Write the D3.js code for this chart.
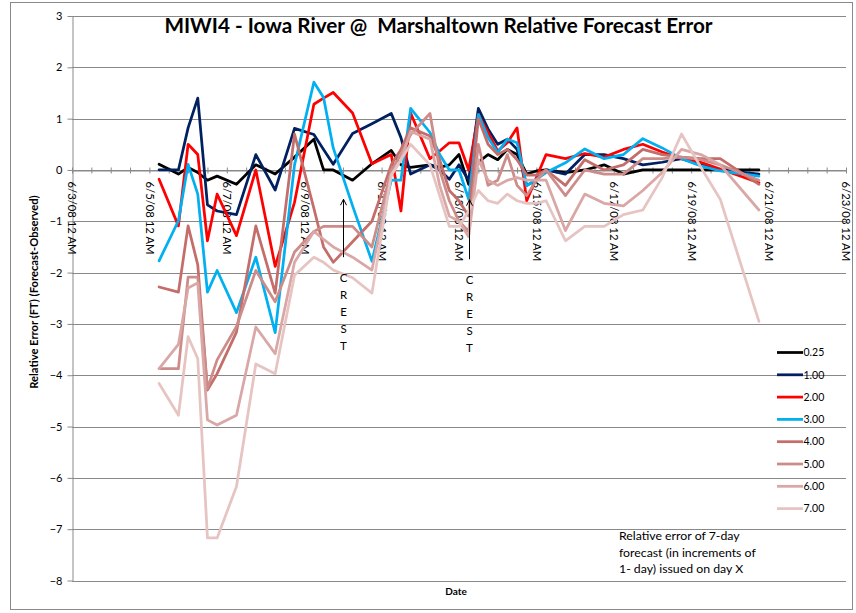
<!DOCTYPE html>
<html>
<head>
<meta charset="utf-8">
<script src="https://cdn.jsdelivr.net/npm/d3@7"></script>
<style>
  html, body { margin: 0; padding: 0; background: #fff; }
  svg { display: block; font-family: Lato, "Liberation Sans", sans-serif; }
</style>
</head>
<body>
<svg id="chart" width="856" height="613"></svg>
<script>
// Forecast issue times (shared by every series)
const issueTimes = [
  "2008-06-05 06:00", "2008-06-05 18:00", "2008-06-06 00:00", "2008-06-06 06:00",
  "2008-06-06 12:00", "2008-06-06 18:00", "2008-06-07 06:00", "2008-06-07 18:00",
  "2008-06-08 06:00", "2008-06-08 18:00", "2008-06-09 06:00", "2008-06-09 12:00",
  "2008-06-09 18:00", "2008-06-10 06:00", "2008-06-10 18:00", "2008-06-11 06:00",
  "2008-06-11 12:00", "2008-06-11 18:00", "2008-06-12 06:00", "2008-06-12 12:00",
  "2008-06-12 18:00", "2008-06-13 00:00", "2008-06-13 06:00", "2008-06-13 12:00",
  "2008-06-13 18:00", "2008-06-14 00:00", "2008-06-14 06:00", "2008-06-14 12:00",
  "2008-06-14 18:00", "2008-06-15 00:00", "2008-06-15 06:00", "2008-06-15 18:00",
  "2008-06-16 06:00", "2008-06-16 18:00", "2008-06-17 06:00", "2008-06-17 18:00",
  "2008-06-18 06:00", "2008-06-18 18:00", "2008-06-19 06:00", "2008-06-19 18:00",
  "2008-06-20 18:00"
];

// Relative error (ft) by forecast lead (days)
const err025 = [0.11, -0.08, 0.05, -0.05, -0.2, -0.12, -0.28, 0.1, -0.08, 0.25,
  0.6, 0.0, 0.0, -0.2, 0.12, 0.38, 0.1, 0.05, 0.1, 0.05,
  0.1, 0.3, -0.28, 0.15, 0.3, 0.2, 0.4, 0.3, -0.08, -0.02,
  0.0, -0.05, 0.0, 0.1, -0.08, 0.0, 0.0, 0.0, 0.0, 0.0, 0.0];
const err100 = [0.0, 0.0, 0.82, 1.4, -0.68, -0.8, -0.87, 0.3, -0.39, 0.81,
  0.69, 0.4, 0.11, 0.71, 0.9, 1.1, 0.63, -0.08, 0.1, 0.0,
  -0.18, 0.1, -0.2, 1.2, 0.8, 0.5, 0.6, 0.4, -0.3, -0.2,
  0.0, -0.08, 0.3, 0.3, 0.22, 0.1, 0.15, 0.22, 0.1, 0.0, -0.08];
const err200 = [-0.18, -1.09, 0.5, 0.3, -1.38, -0.47, -1.28, 0.0, -1.88, -0.63,
  1.28, 1.4, 1.51, 1.11, 0.12, 0.3, -0.8, 1.11, 0.22, 0.37,
  0.53, 0.53, 0.0, 1.08, 0.73, 0.37, 0.53, 0.82, -0.6, -0.15,
  0.3, 0.22, 0.32, 0.25, 0.4, 0.5, 0.35, 0.22, 0.15, 0.02, -0.25];
const err300 = [-1.77, -0.99, 0.11, -0.47, -2.38, -1.96, -2.78, -1.7, -3.17, 0.1,
  1.71, 1.41, 0.43, -0.7, -1.78, -0.2, -0.2, 1.2, 0.73, 0.3,
  0.0, 0.0, -0.57, 1.08, 0.63, 0.34, 0.6, 0.53, -0.31, -0.18,
  -0.05, 0.14, 0.41, 0.22, 0.3, 0.61, 0.43, 0.22, 0.08, -0.02, -0.12];
const err400 = [-2.28, -2.38, -1.09, -1.85, -4.29, -3.97, -3.16, -1.09, -2.4, 0.7,
  -0.75, -1.5, -1.8, -1.4, -1.0, 0.1, 0.4, 0.82, 0.66, 0.2,
  -0.4, -0.6, -0.9, 1.0, 0.5, 0.3, 0.4, 0.2, -0.1, -0.1,
  0.0, -0.3, 0.2, 0.0, 0.1, 0.4, 0.3, 0.25, 0.22, 0.22, -0.28];
const err500 = [-3.87, -3.87, -2.09, -2.09, -4.26, -3.7, -3.05, -1.96, -2.57, -1.6,
  -1.2, -1.1, -1.1, -1.1, -1.5, 0.0, 0.3, 0.69, 1.1, 0.0,
  -0.6, -1.0, -1.2, 0.5, -0.3, -0.2, 0.3, -0.3, -0.5, -0.2,
  0.0, -0.5, 0.0, -0.08, -0.08, 0.22, 0.22, 0.25, 0.2, 0.1, -0.2];
const err600 = [-3.87, -3.4, -2.3, -2.2, -4.87, -4.97, -4.78, -3.06, -3.58, -1.8,
  -1.2, -1.35, -1.5, -1.7, -1.95, -0.1, 0.2, 0.75, 0.6, -0.3,
  -0.9, -1.0, -1.3, 0.2, -0.2, -0.3, -0.2, -0.15, -0.2, -0.2,
  -0.2, -1.18, -0.47, -0.65, -0.7, -0.4, -0.05, 0.4, 0.3, 0.1, -0.78];
const err700 = [-4.16, -4.78, -3.25, -3.68, -7.17, -7.17, -6.17, -3.78, -3.97, -2.05,
  -1.7, -1.8, -1.95, -2.1, -2.4, -0.1, 0.2, 0.5, 0.1, -0.5,
  -1.1, -1.1, -0.8, -0.4, -0.6, -0.65, -0.47, -0.6, -0.65, -0.65,
  -0.6, -1.38, -1.1, -1.1, -0.87, -0.78, -0.15, 0.7, 0.05, -0.57, -2.95];

const seriesNames = ["0.25", "1.00", "2.00", "3.00", "4.00", "5.00", "6.00", "7.00"];
const seriesValues = [err025, err100, err200, err300, err400, err500, err600, err700];
const seriesColors = ["#000000", "#002060", "#ff0000", "#00b0f0",
                      "#c36e6b", "#cd8c89", "#d9a7a5", "#e6c4c2"];

const yTickValues = [-8, -7, -6, -5, -4, -3, -2, -1, 0, 1, 2, 3];
const axisStart = "2008-06-03 00:00";
const axisEnd = "2008-06-23 00:00";

// Crest markers: time, arrow from / to (ft)
const crestTimes = ["2008-06-10 00:00", "2008-06-13 06:00"];
const crestArrowFrom = [-1.70, -1.74];
const crestArrowTo = [-0.57, -0.58];

const titleText = "MIWI4 - Iowa River @  Marshaltown Relative Forecast Error";
const yTitle = "Relative Error (FT) (Forecast-Observed)";
const xTitle = "Date";
const noteLines = ["Relative error of 7-day", "forecast (in increments of", "1- day) issued on day X"];

// ---------------------------------------------------------------
const parse = d3.timeParse("%Y-%m-%d %H:%M");
const times = issueTimes.map(parse);
const t0 = parse(axisStart), t1 = parse(axisEnd);

const svg = d3.select("#chart");
const gridColor = "#898989";

const x = d3.scaleTime().domain([t0, t1]).range([72, 846]);
const y = d3.scaleLinear().domain([-8, 3]).range([580.5, 16]);

// outer frame
svg.append("rect").attr("x", 10.5).attr("y", 2.5).attr("width", 842).attr("height", 607)
  .attr("fill", "#fff").attr("stroke", gridColor).attr("stroke-width", 1);

// horizontal gridlines
svg.append("g").selectAll("line").data(yTickValues).join("line")
  .attr("x1", 72).attr("x2", 846)
  .attr("y1", d => Math.round(y(d)) + 0.5).attr("y2", d => Math.round(y(d)) + 0.5)
  .attr("stroke", gridColor).attr("stroke-width", 1);

// value axis
const yAxisG = svg.append("g").attr("transform", "translate(72.5,0)")
  .call(d3.axisLeft(y).tickValues(yTickValues).tickSize(5).tickSizeOuter(0).tickPadding(5).tickFormat(d3.format("d")));
yAxisG.select(".domain").attr("stroke", gridColor);
yAxisG.selectAll(".tick line").attr("stroke", gridColor);
yAxisG.selectAll(".tick text").attr("font-size", 11).attr("fill", "#000")
  .attr("font-family", "Lato, 'Liberation Sans', sans-serif");

// date axis crossing at zero
const halfDays = d3.timeHour.every(12).range(t0, d3.timeHour.offset(t1, 1));
const labelDays = d3.range(0, 21, 2).map(k => d3.timeDay.offset(t0, k));
const y0 = Math.round(y(0)) + 0.5;
const xAxisG = svg.append("g").attr("transform", `translate(0,${y0})`)
  .call(d3.axisBottom(x).tickValues(halfDays).tickSize(3).tickSizeOuter(0).tickFormat(""));
xAxisG.select(".domain").attr("stroke", gridColor);
xAxisG.selectAll(".tick line").attr("y1", -3).attr("y2", 3).attr("stroke", gridColor);

const fmtDate = d3.timeFormat("%-m/%-d/%y %-I %p");
const xLabG = svg.append("g").attr("transform", `translate(0,${y0})`)
  .call(d3.axisBottom(x).tickValues(labelDays).tickSize(0).tickSizeOuter(0).tickFormat(fmtDate));
xLabG.select(".domain").remove();
xLabG.selectAll(".tick text")
  .attr("font-size", 11.3).attr("fill", "#000")
  .attr("font-family", "Lato, 'Liberation Sans', sans-serif")
  .attr("text-anchor", "start")
  .attr("y", 0).attr("dy", "0.36em")
  .attr("transform", "translate(0,11) rotate(90)");

// series lines
const line = d3.line()
  .x((d, i) => x(times[i]))
  .y(d => y(d));
svg.append("g").selectAll("path").data(seriesValues).join("path")
  .attr("d", d => line(d))
  .attr("fill", "none")
  .attr("stroke", (d, i) => seriesColors[i])
  .attr("stroke-width", 2.75)
  .attr("stroke-linejoin", "round")
  .attr("stroke-linecap", "round");

// crest arrows
const crestG = svg.append("g");
crestTimes.forEach((ts, i) => {
  const cx = Math.round(x(parse(ts))) + 0.5;
  const yb = y(crestArrowFrom[i]), yt = y(crestArrowTo[i]);
  crestG.append("line").attr("x1", cx).attr("x2", cx).attr("y1", yb).attr("y2", yt)
    .attr("stroke", "#000").attr("stroke-width", 1);
  crestG.append("path")
    .attr("d", `M${cx - 3},${yt + 6}L${cx},${yt}L${cx + 3},${yt + 6}`)
    .attr("fill", "none").attr("stroke", "#000").attr("stroke-width", 1);
  "CREST".split("").forEach((ch, k) => {
    crestG.append("text").attr("x", cx).attr("y", yb + 25 + k * 17)
      .attr("text-anchor", "middle").attr("font-size", 11.5).attr("fill", "#000")
      .text(ch);
  });
});

// title and axis titles
svg.append("text").attr("x", 438.5).attr("y", 33).attr("text-anchor", "middle")
  .attr("font-size", 20.7).attr("font-weight", "bold").attr("fill", "#000")
  .style("white-space", "pre").text(titleText);
svg.append("text").attr("transform", "translate(38,292) rotate(-90)")
  .attr("text-anchor", "middle").attr("font-size", 11.2).attr("font-weight", "bold")
  .attr("fill", "#000").text(yTitle);
svg.append("text").attr("x", 456).attr("y", 595).attr("text-anchor", "middle")
  .attr("font-size", 10).attr("font-weight", "bold").attr("fill", "#000").text(xTitle);

// legend
const legG = svg.append("g").attr("transform", "translate(777,352.5)");
const legItems = legG.selectAll("g").data(seriesNames).join("g")
  .attr("transform", (d, i) => `translate(0,${i * 22.3})`);
legItems.append("line").attr("x1", 0).attr("x2", 26).attr("y1", 0).attr("y2", 0)
  .attr("stroke", (d, i) => seriesColors[i]).attr("stroke-width", 2.75);
legItems.append("text").attr("x", 26.5).attr("y", 0).attr("dy", "0.36em")
  .attr("font-size", 10.5).attr("fill", "#000").text(d => d);

// note
svg.append("g").selectAll("text").data(noteLines).join("text")
  .attr("x", 619).attr("y", (d, i) => 540 + i * 16.7)
  .attr("font-size", 12.3).attr("fill", "#000").text(d => d);
</script>
</body>
</html>
